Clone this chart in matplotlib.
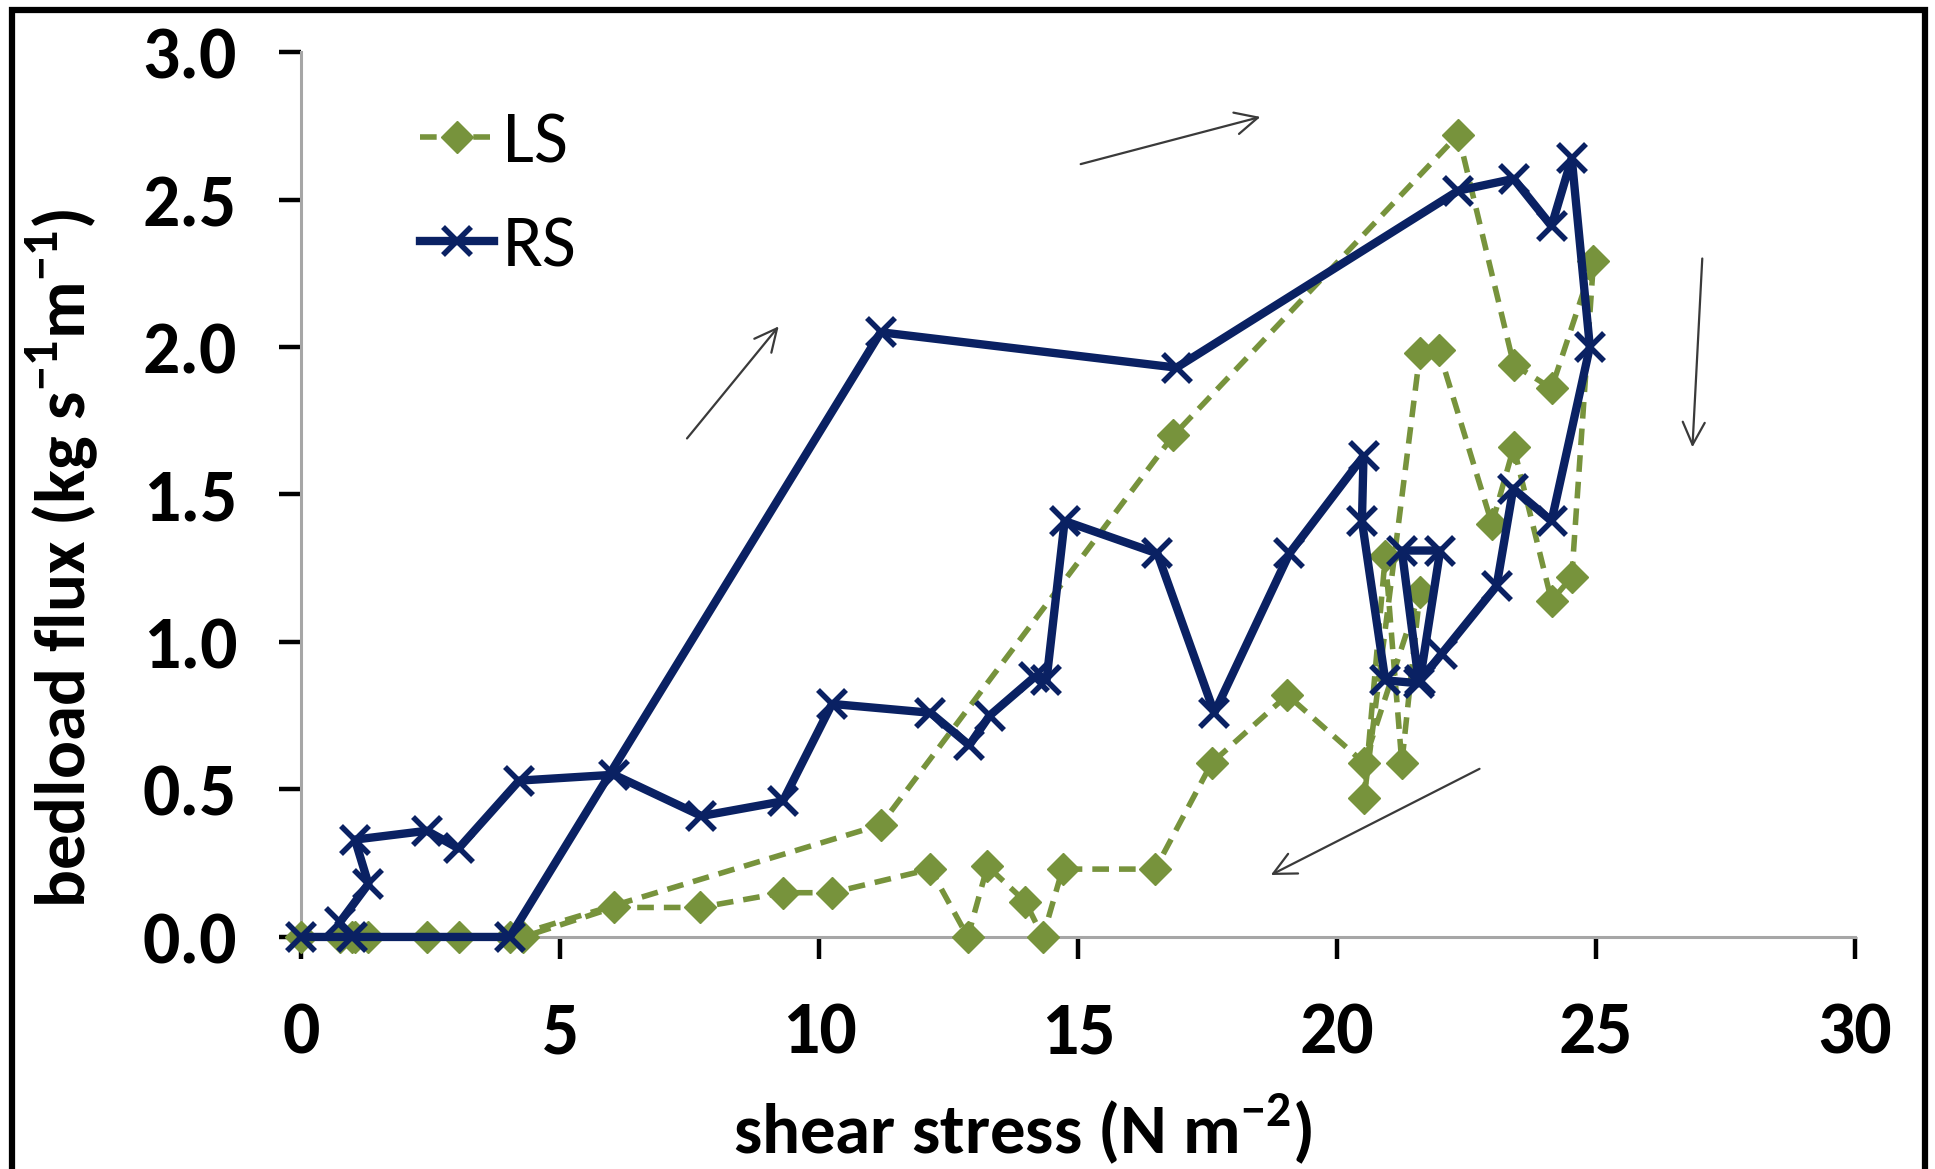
import matplotlib
matplotlib.use('Agg')
from matplotlib import pyplot as plt
from matplotlib import font_manager
from matplotlib.patches import Rectangle
from matplotlib.ticker import FormatStrFormatter

# LS (left side) - shear stress and bedload flux
ls_x = [0, 0.98, 4.03, 11.19, 16.84, 22.34, 23.41, 24.14, 24.95,
        24.53, 24.14, 23.41, 22.99, 21.96, 21.60, 20.52, 20.93, 21.25, 21.60, 20.52,
        19.04, 17.58, 16.49, 14.70, 14.32, 13.98, 13.25, 12.87, 12.15, 10.25, 9.30,
        7.70, 6.04, 4.29, 3.04, 2.43, 1.30, 1.04, 0.75]
ls_y = [0, 0, 0, 0.38, 1.70, 2.72, 1.94, 1.86, 2.29,
        1.22, 1.14, 1.66, 1.40, 1.99, 1.98, 0.47, 1.29, 0.59, 1.17, 0.59,
        0.82, 0.59, 0.23, 0.23, 0.0, 0.12, 0.24, 0.0, 0.23, 0.15, 0.15,
        0.10, 0.10, 0.0, 0.0, 0.0, 0.0, 0.0, 0.0]

# RS (right side)
rs_x = [0, 0.98, 4.03, 11.19, 16.90, 22.34, 23.41, 24.14, 24.53, 24.88,
        24.14, 23.40, 23.08, 22.02, 21.60, 21.99, 21.25, 21.58, 20.93, 20.48, 20.51,
        19.08, 17.63, 16.53, 14.74, 14.39, 14.15, 13.29, 12.90, 12.15, 10.25, 9.30,
        7.73, 6.04, 4.21, 3.04, 2.43, 1.04, 1.30, 0.75]
rs_y = [0, 0, 0, 2.05, 1.93, 2.53, 2.57, 2.41, 2.64, 2.00,
        1.41, 1.52, 1.19, 0.96, 0.87, 1.31, 1.31, 0.86, 0.87, 1.41, 1.63,
        1.30, 0.76, 1.30, 1.41, 0.87, 0.88, 0.75, 0.65, 0.76, 0.79, 0.46,
        0.41, 0.55, 0.53, 0.30, 0.36, 0.33, 0.18, 0.05]

x_ticks = [0, 5, 10, 15, 20, 25, 30]
y_ticks = [0.0, 0.5, 1.0, 1.5, 2.0, 2.5, 3.0]

# hysteresis direction arrows (tail, head) in data units
arrows = [((7.45, 1.69), (9.22, 2.07)),
          ((15.05, 2.62), (18.52, 2.78)),
          ((27.05, 2.30), (26.86, 1.66)),
          ((22.75, 0.57), (18.72, 0.21))]

# Calibri-like font if there is one, otherwise Arial metrics
names = {f.name for f in font_manager.fontManager.ttflist}
if 'Carlito' in names:
    fam, tick_fs, label_fs, leg_fs = 'Carlito', 53, 51, 53
elif 'Liberation Sans Narrow' in names:
    fam, tick_fs, label_fs, leg_fs = 'Liberation Sans Narrow', 53, 53, 48
else:
    fam, tick_fs, label_fs, leg_fs = 'Liberation Sans', 48, 45, 40

plt.rcParams['font.family'] = [fam, 'DejaVu Sans']
plt.rcParams['font.weight'] = 'bold'
plt.rcParams['mathtext.fontset'] = 'custom'
plt.rcParams['mathtext.rm'] = fam
plt.rcParams['mathtext.bf'] = fam + ':bold'

navy = '#0a2163'
green = '#77933C'

fig = plt.figure(figsize=(19.35, 11.69), dpi=100)
ax = fig.add_axes([0.1556, 0.1985, 0.8031, 0.757])

ax.plot(ls_x, ls_y, color=green, lw=4, ls=(0, (3, 1.8)), marker='D', ms=16,
        mec=green, mfc=green, label='LS', clip_on=False, zorder=3)
ax.plot(rs_x, rs_y, color=navy, lw=6, marker='x', ms=20, mew=4,
        label='RS', clip_on=False, zorder=4)

for tail, head in arrows:
    ax.annotate('', xy=head, xytext=tail,
                arrowprops=dict(arrowstyle='->,head_length=0.45,head_width=0.22',
                                color='#3a3a3a', lw=1.6, mutation_scale=36,
                                shrinkA=0, shrinkB=0))

ax.set_xlim(0, 30)
ax.set_ylim(0, 3.0)
ax.set_xticks(x_ticks)
ax.set_yticks(y_ticks)
ax.yaxis.set_major_formatter(FormatStrFormatter('%.1f'))
ax.tick_params(axis='both', direction='out', length=16, width=3.2, color='black',
               pad=30, labelsize=tick_fs)

for side in ['top', 'right']:
    ax.spines[side].set_visible(False)
for side in ['left', 'bottom']:
    ax.spines[side].set_color('#a6a6a6')
    ax.spines[side].set_linewidth(2.2)

ax.set_xlabel(r'shear stress (N m$^{\mathbf{-2}}$)', fontsize=label_fs, fontweight='bold')
ax.set_ylabel(r'bedload flux (kg s$^{\mathbf{-1}}$m$^{\mathbf{-1}}$)', fontsize=label_fs,
              fontweight='bold')
ax.xaxis.set_label_coords(0.464, -0.217)
ax.xaxis.label.set_va('center')
ax.yaxis.set_label_coords(-0.154, 0.428)
ax.yaxis.label.set_va('center')

ax.legend(loc='upper left', bbox_to_anchor=(0.0766, 0.933), frameon=False,
          handlelength=1.0, handletextpad=0.12, labelspacing=0.55, borderpad=0,
          borderaxespad=0, prop={'family': fam, 'weight': 'normal', 'size': leg_fs})

# black frame round the picture
fig.add_artist(Rectangle((0.0062, -0.02), 0.9886, 1.0114, transform=fig.transFigure,
                         fill=False, lw=4.5, ec='black'))

fig.savefig('out.png', dpi=100)
